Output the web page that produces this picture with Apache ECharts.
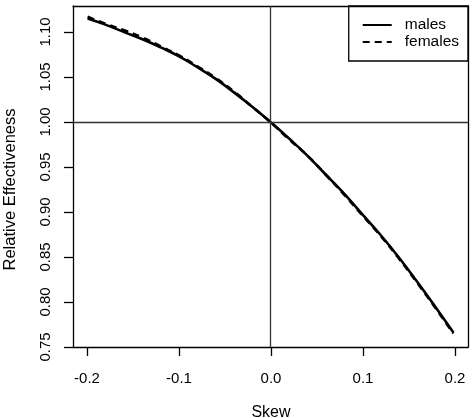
<!DOCTYPE html>
<html>
<head>
<meta charset="utf-8">
<script src="https://cdn.jsdelivr.net/npm/echarts@6/dist/echarts.min.js"></script>
<style>
  html, body { margin: 0; padding: 0; background: #fff; }
  #chart { width: 475px; height: 418px; }
</style>
</head>
<body>
<div id="chart"></div>
<script>
// skew values (x)
const skew = [-0.20, -0.18, -0.16, -0.14, -0.12, -0.10, -0.08, -0.06, -0.04, -0.02,
  0.00, 0.02, 0.04, 0.06, 0.08, 0.10, 0.12, 0.14, 0.16, 0.18, 0.20];
// relative effectiveness
const males = [1.115, 1.108, 1.100, 1.092, 1.083, 1.073, 1.061, 1.048, 1.033, 1.017,
  1.000, 0.982, 0.963, 0.942, 0.921, 0.898, 0.875, 0.850, 0.823, 0.795, 0.766];
const females = [1.117, 1.109, 1.102, 1.094, 1.084, 1.074, 1.062, 1.049, 1.034, 1.017,
  1.000, 0.981, 0.963, 0.942, 0.920, 0.897, 0.874, 0.849, 0.822, 0.794, 0.765];
const xTicks = [-0.2, 0.2, 0.1];   // min, max, interval of the tick axis
const yTicks = [0.75, 1.10, 0.05];

const font = "Liberation Sans, Arial, sans-serif";
const pairs = (ys) => skew.map((x, i) => [x, ys[i]]);
const black = { color: "#000", width: 1.3 };

// the box is drawn with four plain axis lines round grid 0
const boxSide = (pos, range) => ({
  gridIndex: 0, type: "value", min: range[0], max: range[1], position: pos,
  axisLine: { show: true, onZero: false, lineStyle: black },
  axisTick: { show: false }, axisLabel: { show: false }, splitLine: { show: false }
});
// an axis that only exists because every grid needs one of each kind
// (its 0 sits on the grid's left/bottom edge, so the other axis lands there)
const hidden = (grid) => ({
  gridIndex: grid, type: "value", min: 0, max: 1,
  axisLine: { show: false }, axisTick: { show: false }, axisLabel: { show: false },
  splitLine: { show: false }
});

const chart = echarts.init(document.getElementById("chart"));
chart.setOption({
  animation: false,
  grid: [
    // plot box (data lives here)
    { left: 73, right: 7, top: 6, bottom: 71, show: false, outerBoundsMode: "none", containLabel: false },
    // R style x axis: ticks only over -0.2 .. 0.2
    { left: 87, right: 20, top: 32, bottom: 71, outerBoundsMode: "none", containLabel: false },
    // R style y axis: starts one tick length left of the box, ticks point inwards to it
    { left: 64, right: 20, top: 32, bottom: 71, outerBoundsMode: "none", containLabel: false }
  ],
  legend: {
    orient: "vertical",
    right: 7, top: 6,
    padding: [11, 9, 11, 13],
    itemGap: 1,
    itemWidth: 29,
    itemHeight: 14,
    borderColor: "#000",
    borderWidth: 1.3,
    itemStyle: { opacity: 0 },
    textStyle: { color: "#000", fontSize: 15.5, fontFamily: font, padding: [0, 0, 0, 8] },
    data: ["males", "females"]
  },
  xAxis: [
    boxSide("bottom", [-0.216, 0.216]),
    {
      gridIndex: 1, type: "value", min: xTicks[0], max: xTicks[1], interval: xTicks[2],
      name: "Skew",
      nameLocation: "middle",
      nameGap: 58,
      nameTextStyle: { color: "#000", fontSize: 16, fontFamily: font },
      splitLine: { show: false },
      axisLine: { show: false, onZero: false },
      axisTick: { show: true, inside: false, length: 9, lineStyle: black },
      axisLabel: {
        color: "#000", fontSize: 15, fontFamily: font, margin: 24,
        formatter: (v) => v.toFixed(1)
      }
    },
    boxSide("top", [-0.216, 0.216]),
    hidden(2)
  ],
  yAxis: [
    boxSide("left", [0.75, 1.129]),
    hidden(1),
    boxSide("right", [0.75, 1.129]),
    {
      gridIndex: 2, type: "value", min: yTicks[0], max: yTicks[1], interval: yTicks[2],
      name: "Relative Effectiveness",
      nameLocation: "middle",
      nameGap: 45,
      nameTextStyle: { color: "#000", fontSize: 16.5, fontFamily: font },
      splitLine: { show: false },
      axisLine: { show: false },
      axisTick: { show: true, inside: true, length: 9, lineStyle: black },
      axisLabel: {
        color: "#000", fontSize: 15, fontFamily: font, margin: 11, rotate: 90,
        formatter: (v) => v.toFixed(2)
      }
    }
  ],
  series: [
    {
      name: "males",
      type: "line",
      xAxisIndex: 0, yAxisIndex: 0,
      data: pairs(males),
      smooth: true,
      showSymbol: false,
      itemStyle: { color: "#000" },
      lineStyle: { color: "#000", width: 2.6, type: "solid" },
      markLine: {
        silent: true,
        symbol: "none",
        label: { show: false },
        lineStyle: { color: "#333", width: 1.3, type: "solid" },
        data: [{ xAxis: 0 }, { yAxis: 1 }]
      },
      z: 3
    },
    {
      name: "females",
      type: "line",
      xAxisIndex: 0, yAxisIndex: 0,
      data: pairs(females),
      smooth: true,
      showSymbol: false,
      itemStyle: { color: "#000" },
      lineStyle: { color: "#000", width: 2.6, type: [7, 5] },
      z: 2
    }
  ]
});
</script>
</body>
</html>
